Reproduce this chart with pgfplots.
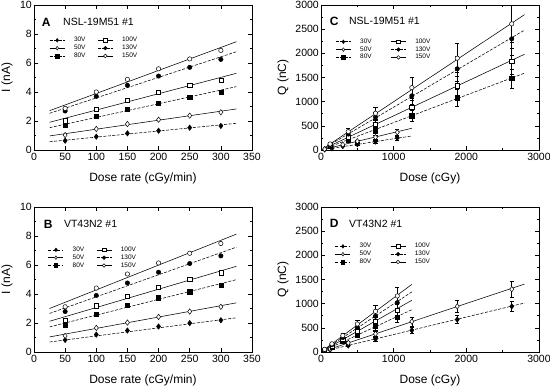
\documentclass[border=0pt]{standalone}
\usepackage{fontspec}
\setmainfont{Liberation Sans}
\usepackage{pgfplots}
\pgfplotsset{compat=1.18}
\pgfplotsset{
  dl/.style={black, line width=0.55pt, dash pattern=on 3pt off 1.5pt},
  sl/.style={black, line width=0.55pt, solid},
  m30/.style={mark=diamond*, mark size=2.7pt, mark options={solid, fill=black, line width=0.5pt}},
  m50/.style={mark=diamond*, mark size=2.7pt, mark options={solid, fill=white, line width=0.5pt}},
  m80/.style={mark=square*, mark size=2.1pt, mark options={solid, fill=black, line width=0.5pt}},
  m100/.style={mark=square*, mark size=2.1pt, mark options={solid, fill=white, line width=0.5pt}},
  m130/.style={mark=*, mark size=2.2pt, mark options={solid, fill=black, line width=0.5pt}},
  m150/.style={mark=*, mark size=2.2pt, mark options={solid, fill=white, line width=0.5pt}},
  eb/.style={error bars/y dir=both, error bars/y explicit,
     error bars/error bar style={line width=0.5pt, solid, black},
     error bars/error mark options={rotate=90, mark size=2.2pt, line width=0.5pt, black}},
  panel/.style={
    scale only axis, width=218pt, height=145pt,
    axis line style={line width=0.6pt},
    major tick length=4pt, minor tick length=2pt,
    every tick/.style={black, line width=0.5pt},
    tick label style={font=\fontsize{10.5}{12}\selectfont},
    label style={font=\fontsize{12}{14}\selectfont},
    /pgf/number format/assume math mode=true,
    /pgf/number format/1000 sep={},
    scaled ticks=false,
    yticklabel style={inner xsep=2pt},
    legend columns=2,
    legend cell align=left,
    legend image code/.code={\draw[mark repeat=2, mark phase=2, ##1] plot coordinates {(0pt,0pt) (7.5pt,0pt) (15pt,0pt)};},
    legend image post style={mark size=1.8pt},
    legend style={draw=none, fill=none, inner sep=0pt, font=\fontsize{6.5}{6.5}\selectfont,
      row sep=0pt, nodes={inner ysep=0.9pt, inner xsep=0pt},
      /tikz/every odd column/.append style={column sep=9pt}},
  },
  IA/.style={panel, xmin=0, xmax=350, ymin=0, ymax=10,
    xtick={0,50,...,350}, ytick={0,2,...,10}, minor y tick num=1,
    xlabel={Dose rate (cGy/min)}, ylabel={I (nA)},
    xlabel style={at={(axis description cs:0.5,-0.155)}, anchor=north, inner sep=0pt},
    ylabel style={at={(axis description cs:-0.097,0.5)}, anchor=south, inner sep=0pt}},
  QC/.style={panel, xmin=0, xmax=3000, ymin=0, ymax=3000,
    xtick={0,1000,2000,3000}, minor x tick num=1,
    ytick={0,500,...,3000}, minor y tick num=1,
    xlabel={Dose (cGy)}, ylabel={Q (nC)},
    xlabel style={at={(axis description cs:0.5,-0.155)}, anchor=north, inner sep=0pt},
    ylabel style={at={(axis description cs:-0.148,0.5)}, anchor=south, inner sep=0pt}},
}
\newcommand{\legs}{%
  \addlegendimage{dl, m30}\addlegendentry{30V}
  \addlegendimage{sl, m100}\addlegendentry{100V}
  \addlegendimage{sl, m50}\addlegendentry{50V}
  \addlegendimage{dl, m130}\addlegendentry{130V}
  \addlegendimage{dl, m80}\addlegendentry{80V}
  \addlegendimage{sl, m150}\addlegendentry{150V}
}
\begin{document}
\begin{tikzpicture}
\useasboundingbox (0pt,0pt) rectangle (550pt,386pt);

% ---------------- Panel A ----------------
\begin{axis}[IA, at={(34pt,236pt)}, anchor=south west,
  legend style={at={(axis description cs:0.07,0.785)}, anchor=north west,
    /tikz/every even column/.append style={column sep=12pt}}]
\legs
\addplot[dl, forget plot] coordinates {(25,0.57) (325,1.84)};
\addplot[sl, forget plot] coordinates {(25,0.97) (325,2.83)};
\addplot[dl, forget plot] coordinates {(25,1.54) (325,4.37)};
\addplot[sl, forget plot] coordinates {(25,1.91) (325,5.29)};
\addplot[dl, forget plot] coordinates {(25,2.53) (325,6.78)};
\addplot[sl, forget plot] coordinates {(25,2.71) (325,7.47)};
\addplot[only marks, m30, forget plot] coordinates {(50,0.64) (100,0.92) (150,1.15) (200,1.33) (250,1.54) (300,1.66)};
\addplot[only marks, m50, forget plot] coordinates {(50,1.03) (100,1.45) (150,1.79) (200,2.09) (250,2.37) (300,2.60)};
\addplot[only marks, m80, forget plot] coordinates {(50,1.68) (100,2.30) (150,2.83) (200,3.24) (250,3.66) (300,4.00)};
\addplot[only marks, m100, forget plot] coordinates {(50,2.02) (100,2.80) (150,3.43) (200,3.98) (250,4.44) (300,4.83)};
\addplot[only marks, m130, forget plot] coordinates {(50,2.69) (100,3.70) (150,4.46) (200,5.10) (250,5.70) (300,6.25)};
\addplot[only marks, m150, forget plot] coordinates {(50,2.87) (100,4.00) (150,4.87) (200,5.60) (250,6.28) (300,6.87)};
\node[anchor=west, inner sep=0pt, font=\fontsize{12}{13}\selectfont\bfseries] at (axis description cs:0.035,0.883) {A};
\node[anchor=west, inner sep=0pt, font=\fontsize{10.5}{12}\selectfont] at (axis description cs:0.133,0.883) {NSL-19M51 \#1};
\end{axis}

% ---------------- Panel B ----------------
\begin{axis}[IA, at={(34pt,34pt)}, anchor=south west,
  legend style={at={(axis description cs:0.064,0.733)}, anchor=north west,
    /tikz/every even column/.append style={column sep=12pt}}]
\legs
\addplot[dl, forget plot] coordinates {(25,0.69) (325,2.36)};
\addplot[sl, forget plot] coordinates {(25,1.04) (325,3.39)};
\addplot[dl, forget plot] coordinates {(25,1.73) (325,4.99)};
\addplot[sl, forget plot] coordinates {(25,2.12) (325,5.91)};
\addplot[dl, forget plot] coordinates {(25,2.66) (325,7.23)};
\addplot[sl, forget plot] coordinates {(25,3.00) (325,8.13)};
\addplot[only marks, m30, forget plot] coordinates {(50,0.83) (100,1.20) (150,1.48) (200,1.76) (250,1.99) (300,2.19)};
\addplot[only marks, m50, forget plot] coordinates {(50,1.11) (100,1.66) (150,2.03) (200,2.42) (250,2.79) (300,3.12)};
\addplot[only marks, m80, forget plot] coordinates {(50,1.82) (100,2.61) (150,3.21) (200,3.74) (250,4.16) (300,4.60)};
\addplot[only marks, m100, forget plot] coordinates {(50,2.19) (100,3.19) (150,3.86) (200,4.46) (250,4.99) (300,5.47)};
\addplot[only marks, m130, forget plot] coordinates {(50,2.79) (100,3.90) (150,4.76) (200,5.50) (250,6.10) (300,6.63)};
\addplot[only marks, m150, forget plot] coordinates {(50,3.12) (100,4.41) (150,5.38) (200,6.14) (250,6.81) (300,7.48)};
\node[anchor=west, inner sep=0pt, font=\fontsize{12}{13}\selectfont\bfseries] at (axis description cs:0.044,0.881) {B};
\node[anchor=west, inner sep=0pt, font=\fontsize{10.5}{12}\selectfont] at (axis description cs:0.137,0.881) {VT43N2 \#1};
\end{axis}

% ---------------- Panel C ----------------
\begin{axis}[QC, at={(321pt,236pt)}, anchor=south west,
  legend style={at={(axis description cs:0.066,0.775)}, anchor=north west,
    /tikz/every even column/.append style={column sep=19pt}}]
\legs
\addplot[dl, forget plot] coordinates {(30,7) (1250,290)};
\addplot[sl, forget plot] coordinates {(30,11) (1250,450)};
\addplot[dl, forget plot] coordinates {(30,17) (2800,1590)};
\addplot[sl, forget plot] coordinates {(30,21) (2800,1980)};
\addplot[dl, forget plot] coordinates {(30,27) (2800,2480)};
\addplot[sl, forget plot] coordinates {(30,30) (2800,2800)};
\addplot[only marks, m30, eb, forget plot] coordinates {(50,12)+-(0,2) (150,35)+-(0,5) (300,80)+-(0,12) (500,120)+-(0,18) (750,175)+-(0,26) (1050,250)+-(0,38)};
\addplot[only marks, m50, eb, forget plot] coordinates {(50,18)+-(0,3) (150,55)+-(0,8) (300,110)+-(0,16) (500,180)+-(0,27) (750,265)+-(0,40) (1050,365)+-(0,55)};
\addplot[only marks, m80, eb, forget plot] coordinates {(125,70)+-(0,10) (375,210)+-(0,30) (750,420)+-(0,65) (1250,710)+-(0,110) (1875,1080)+-(0,170) (2625,1480)+-(0,200)};
\addplot[only marks, m100, eb, forget plot] coordinates {(125,90)+-(0,14) (375,270)+-(0,40) (750,530)+-(0,80) (1250,890)+-(0,135) (1875,1330)+-(0,200) (2625,1840)+-(0,270)};
\addplot[only marks, m130, eb, forget plot] coordinates {(125,110)+-(0,17) (375,330)+-(0,50) (750,680)+-(0,100) (1250,1120)+-(0,170) (1875,1680)+-(0,250) (2625,2300)+-(0,340)};
\addplot[only marks, m150, eb, forget plot] coordinates {(125,125)+-(0,19) (375,380)+-(0,60) (750,760)+-(0,115) (1250,1290)+-(0,220) (1875,1900)+-(0,300) (2625,2610)+-(0,380)};
\node[anchor=west, inner sep=0pt, font=\fontsize{12}{13}\selectfont\bfseries] at (axis description cs:0.04,0.89) {C};
\node[anchor=west, inner sep=0pt, font=\fontsize{10.5}{12}\selectfont] at (axis description cs:0.128,0.89) {NSL-19M51 \#1};
\end{axis}

% ---------------- Panel D ----------------
\begin{axis}[QC, at={(321pt,34pt)}, anchor=south west,
  legend style={at={(axis description cs:0.064,0.757)}, anchor=north west,
    /tikz/every even column/.append style={column sep=19pt}}]
\legs
\addplot[dl, forget plot] coordinates {(30,11) (2800,1013)};
\addplot[sl, forget plot] coordinates {(30,15) (2800,1405)};
\addplot[dl, forget plot] coordinates {(30,21) (1250,875)};
\addplot[sl, forget plot] coordinates {(30,26) (1250,1070)};
\addplot[dl, forget plot] coordinates {(30,30) (1250,1244)};
\addplot[sl, forget plot] coordinates {(30,34) (1250,1399)};
\addplot[only marks, m30, eb, forget plot] coordinates {(125,45)+-(0,7) (375,135)+-(0,20) (750,270)+-(0,40) (1250,450)+-(0,70) (1875,671)+-(0,80) (2625,944)+-(0,100)};
\addplot[only marks, m50, eb, forget plot] coordinates {(125,63)+-(0,10) (375,188)+-(0,28) (750,375)+-(0,55) (1250,630)+-(0,95) (1875,944)+-(0,120) (2625,1300)+-(0,160)};
\addplot[only marks, m80, eb, forget plot] coordinates {(50,35)+-(0,5) (150,105)+-(0,16) (300,220)+-(0,33) (500,360)+-(0,54) (750,530)+-(0,80) (1050,720)+-(0,100)};
\addplot[only marks, m100, eb, forget plot] coordinates {(50,43)+-(0,7) (150,130)+-(0,20) (300,260)+-(0,40) (500,430)+-(0,65) (750,640)+-(0,95) (1050,860)+-(0,120)};
\addplot[only marks, m130, eb, forget plot] coordinates {(50,50)+-(0,8) (150,150)+-(0,23) (300,300)+-(0,45) (500,510)+-(0,75) (750,740)+-(0,110) (1050,1020)+-(0,150)};
\addplot[only marks, m150, eb, forget plot] coordinates {(50,55)+-(0,8) (150,170)+-(0,25) (300,340)+-(0,50) (500,580)+-(0,85) (750,840)+-(0,125) (1050,1160)+-(0,170)};
\node[anchor=west, inner sep=0pt, font=\fontsize{12}{13}\selectfont\bfseries] at (axis description cs:0.04,0.885) {D};
\node[anchor=west, inner sep=0pt, font=\fontsize{10.5}{12}\selectfont] at (axis description cs:0.128,0.885) {VT43N2 \#1};
\end{axis}
\end{tikzpicture}
\end{document}
